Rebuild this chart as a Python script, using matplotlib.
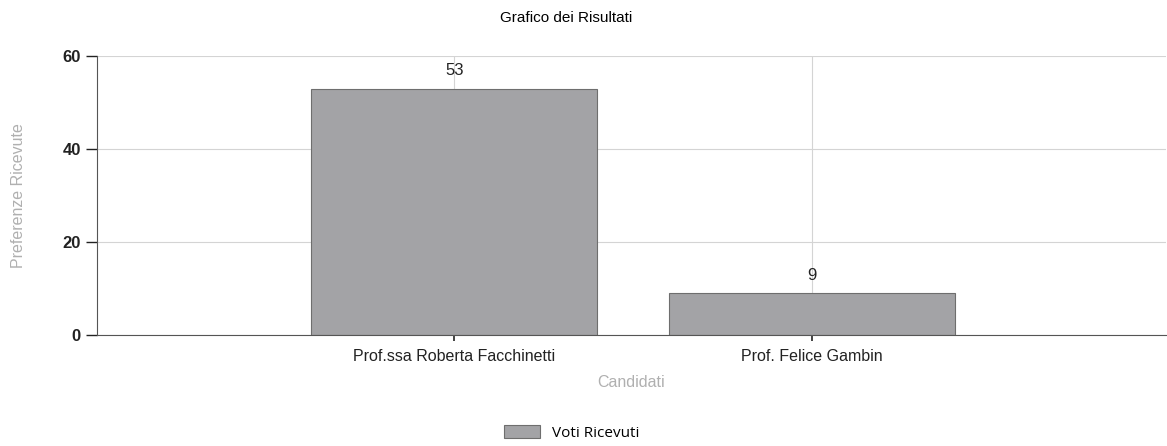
import numpy as np
import matplotlib.pyplot as plt

plt.rcParams['font.family'] = ['Liberation Sans', 'DejaVu Sans']

candidati = ["Prof.ssa Roberta Facchinetti", "Prof. Felice Gambin"]
voti = [53, 9]
y_ticks = [0, 20, 40, 60]

fig = plt.figure(figsize=(11.67, 4.46), dpi=100)
ax = fig.add_axes([0.083, 0.249, 0.916, 0.625])

x = np.arange(len(candidati))
bars = ax.bar(x, voti, width=0.8, color="#a3a3a6", edgecolor="#6e6e6e",
              linewidth=0.8, zorder=2, label="Voti Ricevuti")

for xi, v in zip(x, voti):
    ax.text(xi, v + 2.2, str(v), ha="center", va="bottom", fontsize=12,
            color="#222222", zorder=3)

ax.set_xlim(-1, 1.99)
ax.set_ylim(0, 60)
ax.set_yticks(y_ticks)
ax.set_xticks(x)
ax.set_xticklabels(candidati, fontsize=11.5, color="#222222")
ax.tick_params(axis="y", labelsize=12, colors="#222222", length=8, width=1)
ax.tick_params(axis="x", length=4, width=1.2, colors="#222222", pad=6)
for lbl in ax.get_yticklabels():
    lbl.set_fontweight("bold")

ax.grid(True, color="#d4d4d4", linewidth=0.8, zorder=0)
ax.set_axisbelow(True)
for s in ["top", "right"]:
    ax.spines[s].set_visible(False)
ax.spines["left"].set_color("#555555")
ax.spines["bottom"].set_color("#555555")

ax.set_xlabel("Candidati", fontsize=11.5, color="#b0b0b0", labelpad=8)
ax.set_ylabel("Preferenze Ricevute", fontsize=11.5, color="#b0b0b0", labelpad=26)
fig.suptitle("Grafico dei Risultati", fontsize=11, y=0.975, x=0.485)

fig.legend(handles=[bars], labels=["Voti Ricevuti"], loc="center",
           bbox_to_anchor=(0.49, 0.03), frameon=False,
           prop={"family": "Open Sans", "size": 11},
           handlelength=2.3, handleheight=1.0)

fig.savefig("out.png", dpi=100)
